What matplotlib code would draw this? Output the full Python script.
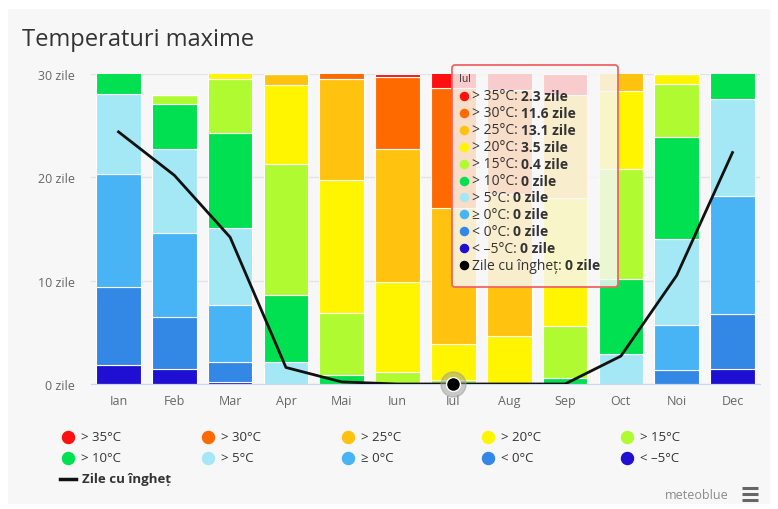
import matplotlib
matplotlib.use('Agg')
import matplotlib.pyplot as plt
import numpy as np
from matplotlib.patches import Rectangle, FancyBboxPatch

plt.rcParams['font.family'] = ['Open Sans', 'DejaVu Sans']

# date (zile pe luna)
luni = ['Ian', 'Feb', 'Mar', 'Apr', 'Mai', 'Iun', 'Iul', 'Aug', 'Sep', 'Oct', 'Noi', 'Dec']
etichete = ['> 35°C', '> 30°C', '> 25°C', '> 20°C', '> 15°C', '> 10°C', '> 5°C', '≥ 0°C', '< 0°C', '< –5°C']
culori = ['#FF1010', '#FF6A00', '#FFC20F', '#FFF500', '#B0FA32', '#00E050', '#A5E8F5', '#48B4F5', '#3388E6', '#1E0FD2']

t35 = [0, 0, 0, 0, 0, 0.3, 2.3, 2.5, 2.0, 0, 0, 0]
t30 = [0, 0, 0, 0, 1.5, 7.0, 11.6, 10.1, 0, 0, 0, 0]
t25 = [0, 0, 0, 1.1, 9.8, 12.8, 13.1, 13.8, 10.0, 2.6, 0, 0]
t20 = [0, 0, 1.5, 7.6, 12.8, 8.7, 3.5, 4.6, 12.4, 7.6, 1.0, 0]
t15 = [0, 0.9, 5.2, 12.7, 6.0, 1.2, 0.4, 0, 5.0, 10.6, 5.1, 0]
t10 = [2.9, 4.4, 9.2, 6.5, 0.9, 0, 0, 0, 0.6, 7.3, 9.9, 3.4]
t5 = [7.8, 8.1, 7.5, 2.1, 0, 0, 0, 0, 0, 2.9, 8.3, 9.4]
t0 = [10.9, 8.1, 5.5, 0, 0, 0, 0, 0, 0, 0, 4.3, 11.4]
tm0 = [7.6, 5.0, 1.9, 0, 0, 0, 0, 0, 0, 0, 1.4, 5.3]
tm5 = [1.8, 1.5, 0.2, 0, 0, 0, 0, 0, 0, 0, 0, 1.5]
inghet = [24.4, 20.2, 14.2, 1.6, 0.2, 0, 0, 0, 0, 2.7, 10.5, 22.4]

serii = [t35, t30, t25, t20, t15, t10, t5, t0, tm0, tm5]
luna_sel = 6  # Iul (tooltip)

W, H = 778, 510
fig = plt.figure(figsize=(W/100, H/100), dpi=100)
fig.patch.set_facecolor('white')
fig.add_artist(Rectangle((8/W, 5/H), 762/W, 495/H, transform=fig.transFigure,
                         facecolor='#f7f7f7', edgecolor='none', zorder=-5))

ax = fig.add_axes([90.6/W, 125/H, 669.8/W, 310/H])
ax.set_facecolor('none')
x = np.arange(len(luni))

# stive de jos in sus
jos = np.zeros(len(luni))
for vals, c in zip(serii[::-1], culori[::-1]):
    v = np.array(vals, dtype=float)
    ax.bar(x, v, 0.8, bottom=jos, color=c, edgecolor='white', linewidth=0.8, zorder=2)
    jos += v

ax.plot(x, inghet, color='#111111', lw=2, zorder=4)
ax.plot(x[luna_sel], inghet[luna_sel], 'o', ms=18, color='#9a9a9a', alpha=0.5, zorder=5, clip_on=False)
ax.plot(x[luna_sel], inghet[luna_sel], 'o', ms=10, color='#000000', mec='white', mew=1, zorder=6, clip_on=False)

ax.set_xlim(-0.5, 11.5)
ax.set_ylim(0, 30)
ax.set_yticks([0, 10, 20, 30])
ax.set_yticklabels([f'{v} zile' for v in [0, 10, 20, 30]])
ax.set_xticks(x)
ax.set_xticklabels(luni)
ax.tick_params(axis='y', length=0, pad=11, colors='#666666', labelsize=9)
ax.tick_params(axis='x', length=0, pad=7, colors='#666666', labelsize=9)
ax.grid(axis='y', color='#e3e3e3', lw=1, zorder=0)
ax.set_axisbelow(True)
for s in ['top', 'right', 'left']:
    ax.spines[s].set_visible(False)
ax.spines['bottom'].set_color('#ccd6eb')

# strat pentru titlu, legenda si tooltip (coordonate in pixeli)
ov = fig.add_axes([0, 0, 1, 1], zorder=10)
ov.set_xlim(0, W)
ov.set_ylim(0, H)
ov.axis('off')
Y = lambda y: H - y

ov.text(22, Y(40), 'Temperaturi maxime', fontsize=17, color='#333333', va='center', ha='left')

# legenda
colx = [68, 208, 348, 488, 627]
rowy = [438, 459]
for i, (lab, c) in enumerate(zip(etichete, culori)):
    cx, cy = colx[i % 5], rowy[i // 5]
    ov.scatter(cx, Y(cy), s=75, color=c, zorder=3)
    ov.text(cx + 13, Y(cy), lab, fontsize=9.5, color='#333333', va='center', ha='left')
ov.plot([60, 76], [Y(480), Y(480)], color='#111111', lw=2.5)
ov.text(82, Y(480), 'Zile cu îngheț', fontsize=9.5, fontweight='bold', color='#333333', va='center')

ov.text(697, Y(496), 'meteoblue', fontsize=9, color='#8a8a8a', va='center', ha='center')
for yy in [489, 495, 501]:
    ov.plot([742, 758], [Y(yy), Y(yy)], color='#666666', lw=2.2, solid_capstyle='butt')

# tooltip
ov.add_patch(FancyBboxPatch((452, Y(288)), 166, 222, boxstyle='round,pad=0,rounding_size=3',
                            facecolor=(0.97, 0.97, 0.97, 0.82), edgecolor='#F06464', lw=1.3, zorder=1))
ov.text(459, Y(79), luni[luna_sel], fontsize=7.5, color='#333333', va='center', zorder=4)
fig.canvas.draw()
rend = fig.canvas.get_renderer()
randuri = [(lab, c, serii[i][luna_sel]) for i, (lab, c) in enumerate(zip(etichete, culori))]
randuri.append(('Zile cu îngheț', '#000000', inghet[luna_sel]))
for i, (lab, c, v) in enumerate(randuri):
    yy = Y(97 + i * 16.9)
    ov.scatter(464, yy, s=34, color=c, zorder=4)
    t = ov.text(472, yy, lab + ': ', fontsize=10, color='#333333', va='center', zorder=4)
    bb = t.get_window_extent(renderer=rend)
    ov.text(bb.x1, yy, f'{v:g} zile', fontsize=10, fontweight='bold', color='#333333', va='center', zorder=4)

fig.savefig('out.png', dpi=100, facecolor='white')
